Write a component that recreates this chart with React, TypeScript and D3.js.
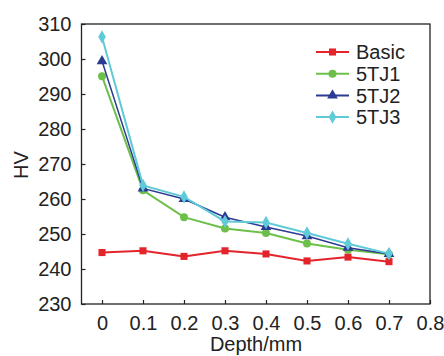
import React, { useEffect, useRef } from "react";
import * as d3 from "d3";

const depths = [0, 0.1, 0.2, 0.3, 0.4, 0.5, 0.6, 0.7];
const basic = [244.7, 245.2, 243.6, 245.2, 244.3, 242.3, 243.4, 242.1];
const tj1 = [295.1, 262.5, 254.8, 251.6, 250.3, 247.3, 245.5, 244.2];
const tj2 = [299.4, 263.0, 260.0, 254.8, 252.0, 249.4, 246.1, 244.3];
const tj3 = [306.3, 263.9, 260.6, 253.6, 253.3, 250.3, 247.2, 244.4];
const xTicks = [0, 0.1, 0.2, 0.3, 0.4, 0.5, 0.6, 0.7, 0.8];
const yTicks = [230, 240, 250, 260, 270, 280, 290, 300, 310];

const series = [
  { name: "Basic", values: basic, color: "#e3242b", marker: "square" },
  { name: "5TJ1", values: tj1, color: "#6cc04a", marker: "circle" },
  { name: "5TJ2", values: tj2, color: "#2b3a92", marker: "triangle" },
  { name: "5TJ3", values: tj3, color: "#5fcad8", marker: "diamond" },
];

const symbolOf = (m: string) =>
  m === "square"
    ? d3.symbolSquare
    : m === "circle"
    ? d3.symbolCircle
    : m === "triangle"
    ? d3.symbolTriangle
    : d3.symbolDiamond;

const App = () => {
  const ref = useRef<SVGSVGElement>(null);

  useEffect(() => {
    const svg = d3.select(ref.current);
    svg.selectAll("*").remove();

    const left = 81.5;
    const right = 430;
    const top = 24;
    const bottom = 304;
    const font = "Liberation Sans, Arial, sans-serif";

    const x = d3.scaleLinear().domain([-0.05, 0.8]).range([left, right]);
    const y = d3.scaleLinear().domain([230, 310]).range([bottom, top]);

    // plot frame
    svg
      .append("rect")
      .attr("x", left)
      .attr("y", top)
      .attr("width", right - left)
      .attr("height", bottom - top)
      .attr("fill", "none")
      .attr("stroke", "#222")
      .attr("stroke-width", 1.3);

    // X axis
    const xAxis = svg
      .append("g")
      .attr("transform", `translate(0,${bottom})`)
      .call(
        d3
          .axisBottom(x)
          .tickValues(xTicks)
          .tickSizeInner(-4)
          .tickSizeOuter(0)
          .tickPadding(12)
          .tickFormat((d) => String(d))
      );
    xAxis.select(".domain").remove();
    xAxis.selectAll("line").attr("stroke", "#222").attr("stroke-width", 1.2);
    xAxis
      .selectAll("text")
      .attr("font-family", font)
      .attr("font-size", 20)
      .attr("fill", "#222");

    // Y axis
    const yAxis = svg
      .append("g")
      .attr("transform", `translate(${left},0)`)
      .call(
        d3
          .axisLeft(y)
          .tickValues(yTicks)
          .tickSizeInner(-4)
          .tickSizeOuter(0)
          .tickPadding(10)
      );
    yAxis.select(".domain").remove();
    yAxis.selectAll("line").attr("stroke", "#222").attr("stroke-width", 1.2);
    yAxis
      .selectAll("text")
      .attr("font-family", font)
      .attr("font-size", 20)
      .attr("fill", "#222");

    // axis titles
    svg
      .append("text")
      .attr("transform", `translate(28,165) rotate(-90)`)
      .attr("text-anchor", "middle")
      .attr("font-family", font)
      .attr("font-size", 20)
      .attr("fill", "#222")
      .text("HV");

    svg
      .append("text")
      .attr("x", 256)
      .attr("y", 351)
      .attr("text-anchor", "middle")
      .attr("font-family", font)
      .attr("font-size", 20)
      .attr("fill", "#222")
      .text("Depth/mm");

    // lines and markers
    const line = d3
      .line<number>()
      .x((_, i) => x(depths[i]))
      .y((d) => y(d));

    series.forEach((s) => {
      svg
        .append("path")
        .datum(s.values)
        .attr("d", line)
        .attr("fill", "none")
        .attr("stroke", s.color)
        .attr("stroke-width", s.name === "5TJ2" ? 1.5 : 2);

      svg
        .append("g")
        .selectAll("path")
        .data(s.values)
        .enter()
        .append("path")
        .attr("transform", (d, i) => `translate(${x(depths[i])},${y(d)})`)
        .attr("d", d3.symbol().type(symbolOf(s.marker)).size(50)())
        .attr("fill", s.color);
    });

    // legend
    const legend = svg.append("g");
    series.forEach((s, i) => {
      const ly = 52 + i * 21.7;
      legend
        .append("line")
        .attr("x1", 316)
        .attr("x2", 349)
        .attr("y1", ly)
        .attr("y2", ly)
        .attr("stroke", s.color)
        .attr("stroke-width", 2);
      legend
        .append("path")
        .attr("transform", `translate(332.5,${ly})`)
        .attr("d", d3.symbol().type(symbolOf(s.marker)).size(50)())
        .attr("fill", s.color);
      legend
        .append("text")
        .attr("x", 356)
        .attr("y", ly)
        .attr("dy", "0.36em")
        .attr("font-family", font)
        .attr("font-size", 20)
        .attr("fill", "#222")
        .text(s.name);
    });
  }, []);

  return (
    <svg
      ref={ref}
      width={444}
      height={356}
      style={{ position: "absolute", left: 0, top: 0, background: "white" }}
    />
  );
};

export default App;
